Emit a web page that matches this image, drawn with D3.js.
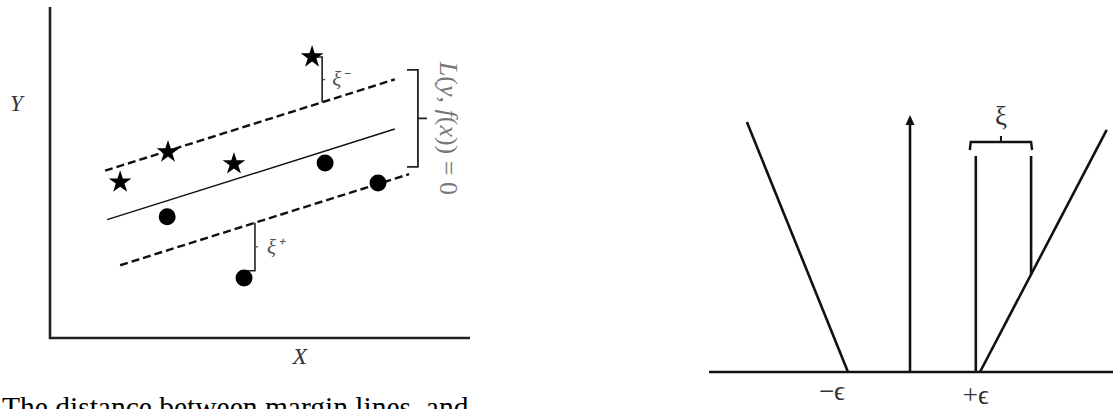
<!DOCTYPE html>
<html><head><meta charset="utf-8">
<script src="https://cdn.jsdelivr.net/npm/d3@7"></script>
<style>body{margin:0;background:#fff}svg{display:block}</style>
</head><body>
<svg id="c" width="1113" height="409"></svg>
<script>
// ---- Left panel data (abstract units) ----
const starsX = [1.67, 2.81, 4.38, 6.24];
const starsY = [4.71, 5.62, 5.26, 8.49];
const dotsX = [2.79, 6.55, 7.81, 4.62];
const dotsY = [3.66, 5.29, 4.68, 1.81];
const fitIntercept = 3.03, fitSlope = 0.4, epsilon = 1.5;
const lineNames = ["upper", "fit", "lower"];
const lineOffsets = [epsilon, 0, -epsilon];
const lineStartX = [1.31, 1.36, 1.67];
const lineEndX = [8.21, 8.21, 8.55];
const slackX = [6.48, 4.88];           // ξ-, ξ+ connector positions
const slackLabels = ["ξ⁻", "ξ⁺"];
const bracketX = [8.5, 8.76];
const bracketY = [5.17, 8.1];
const axisLabels = ["X", "Y"];
const caption = "The distance between margin lines, and data";

// ---- Right panel data (ε-insensitive loss) ----
const lossLeftX = [-0.886, -2.33];
const lossLeftY = [0, 0.833];
const lossRightX = [1.0, 2.81];
const lossRightY = [0, 0.807];
const arrowY = [0, 0.857];
const slackBarX = [0.94, 1.73];
const slackBarTop = 0.72;
const baseX = [-2.87, 2.9];
const epsTicks = [-0.886, 0.94];
const epsLabels = ["−ϵ", "+ϵ"];
const xiLabel = "ξ";

const svg = d3.select("#c");
const serif = "Liberation Serif";

// scales
const xL = d3.scaleLinear().domain([0, 10]).range([50, 470]);
const yL = d3.scaleLinear().domain([0, 10]).range([338, 7]);
const xR = d3.scaleLinear().domain([0, 1]).range([910, 980]);
const yR = d3.scaleLinear().domain([0, 1]).range([372, 72]);

const fit = x => fitIntercept + fitSlope * x;

svg.append("defs").append("clipPath").attr("id", "leftclip")
  .append("rect").attr("x", 0).attr("y", 0).attr("width", xL(10)).attr("height", 409);

// ---------- LEFT PANEL ----------
const L = svg.append("g").attr("clip-path", "url(#leftclip)");
// axes
L.append("path")
  .attr("d", d3.line()([[xL(0), yL(10)], [xL(0), yL(0)], [xL(10) + 5, yL(0)]]))
  .attr("fill", "none").attr("stroke", "#222").attr("stroke-width", 2.6);

L.append("text").attr("x", xL(-0.8)).attr("y", yL(6.85))
  .attr("font-family", serif).attr("font-style", "italic").attr("font-size", 23)
  .attr("fill", "#333").attr("text-anchor", "middle").text(axisLabels[1]);
L.append("text").attr("x", xL(5.95)).attr("y", yL(-0.8))
  .attr("font-family", serif).attr("font-style", "italic").attr("font-size", 24)
  .attr("fill", "#333").attr("text-anchor", "middle").text(axisLabels[0]);

// regression + margin lines
lineNames.forEach((n, i) => {
  const x0 = lineStartX[i], x1 = lineEndX[i];
  L.append("line")
    .attr("x1", xL(x0)).attr("y1", yL(fit(x0) + lineOffsets[i]))
    .attr("x2", xL(x1)).attr("y2", yL(fit(x1) + lineOffsets[i]))
    .attr("stroke", "#111")
    .attr("stroke-width", n === "fit" ? 1.4 : 2.4)
    .attr("stroke-dasharray", n === "fit" ? null : "8,4");
});

// slack connectors
// ξ- : star index 3 to upper line
{
  const sx = slackX[0], top = starsY[3], bot = fit(sx) + epsilon;
  L.append("path").attr("d", d3.line()([[xL(starsX[3]), yL(top)], [xL(sx), yL(top)], [xL(sx), yL(bot)]]))
    .attr("fill", "none").attr("stroke", "#222").attr("stroke-width", 1.6);
  const mid = (top + bot) / 2;
  L.append("line").attr("x1", xL(sx)).attr("x2", xL(sx) + 3).attr("y1", yL(mid)).attr("y2", yL(mid))
    .attr("stroke", "#444").attr("stroke-width", 1.2);
  L.append("text").attr("x", xL(sx) + 10).attr("y", yL(mid) + 6)
    .attr("font-family", serif).attr("font-style", "italic").attr("font-size", 21).attr("fill", "#555")
    .text(slackLabels[0]);
}
// ξ+ : lower line to dot index 3
{
  const sx = slackX[1], top = fit(sx) - epsilon, bot = dotsY[3] + 0.22;
  L.append("path").attr("d", d3.line()([[xL(sx), yL(top)], [xL(sx), yL(bot)], [xL(dotsX[3]), yL(bot)]]))
    .attr("fill", "none").attr("stroke", "#222").attr("stroke-width", 1.6);
  const mid = (top + bot) / 2;
  L.append("line").attr("x1", xL(sx)).attr("x2", xL(sx) + 3).attr("y1", yL(mid)).attr("y2", yL(mid))
    .attr("stroke", "#444").attr("stroke-width", 1.2);
  L.append("text").attr("x", xL(sx) + 12).attr("y", yL(mid) + 7)
    .attr("font-family", serif).attr("font-style", "italic").attr("font-size", 21).attr("fill", "#555")
    .text(slackLabels[1]);
}

// stars
L.selectAll("path.star").data(starsX.map((x, i) => [x, starsY[i]])).join("path")
  .attr("class", "star")
  .attr("d", d3.symbol(d3.symbolStar, 160))
  .attr("transform", d => `translate(${xL(d[0])},${yL(d[1])})`)
  .attr("fill", "#000");
// dots
L.selectAll("circle.dot").data(dotsX.map((x, i) => [x, dotsY[i]])).join("circle")
  .attr("class", "dot")
  .attr("cx", d => xL(d[0])).attr("cy", d => yL(d[1])).attr("r", 8.5)
  .attr("fill", "#000");

// right bracket
{
  const bx0 = xL(bracketX[0]), bx1 = xL(bracketX[1]);
  const by0 = yL(bracketY[1]), by1 = yL(bracketY[0]);
  L.append("path").attr("d", d3.line()([[bx0, by0], [bx1, by0], [bx1, by1], [bx0, by1]]))
    .attr("fill", "none").attr("stroke", "#222").attr("stroke-width", 1.8);
  const my = (by0 + by1) / 2;
  L.append("line").attr("x1", bx1).attr("x2", bx1 + 9).attr("y1", my).attr("y2", my)
    .attr("stroke", "#222").attr("stroke-width", 1.8);
  L.append("text")
    .attr("transform", `translate(${bx1 + 22},${my + 10}) rotate(90)`)
    .attr("text-anchor", "middle")
    .attr("font-family", serif).attr("font-size", 26).attr("fill", "#777")
    .html('<tspan font-style="italic">L</tspan>(<tspan font-style="italic">y</tspan>, <tspan font-style="italic">f</tspan>(<tspan font-style="italic">x</tspan>)) = 0');
}

// caption (cropped by the panel edge, as in the original)
L.append("text").attr("x", 2).attr("y", 417)
  .attr("font-family", serif).attr("font-size", 29.5).attr("fill", "#000").text(caption);

// ---------- RIGHT PANEL ----------
const R = svg.append("g");
R.append("line").attr("x1", xR(baseX[0])).attr("x2", xR(baseX[1]))
  .attr("y1", yR(0)).attr("y2", yR(0)).attr("stroke", "#111").attr("stroke-width", 2.6);
R.append("line").attr("x1", xR(lossLeftX[0])).attr("y1", yR(lossLeftY[0]))
  .attr("x2", xR(lossLeftX[1])).attr("y2", yR(lossLeftY[1]))
  .attr("stroke", "#111").attr("stroke-width", 2.6);
R.append("line").attr("x1", xR(lossRightX[0])).attr("y1", yR(lossRightY[0]))
  .attr("x2", xR(lossRightX[1])).attr("y2", yR(lossRightY[1]))
  .attr("stroke", "#111").attr("stroke-width", 2.6);
// arrow
R.append("line").attr("x1", xR(0)).attr("x2", xR(0))
  .attr("y1", yR(arrowY[0])).attr("y2", yR(arrowY[1]) + 6)
  .attr("stroke", "#111").attr("stroke-width", 2.6);
R.append("path")
  .attr("d", d3.line()([[xR(0) - 4.5, yR(arrowY[1]) + 10], [xR(0), yR(arrowY[1])], [xR(0) + 4.5, yR(arrowY[1]) + 10]]) + "Z")
  .attr("fill", "#111");
// slack verticals
const lossAt = x => lossRightY[0] + (x - lossRightX[0]) * (lossRightY[1] - lossRightY[0]) / (lossRightX[1] - lossRightX[0]);
R.append("line").attr("x1", xR(slackBarX[0])).attr("x2", xR(slackBarX[0]))
  .attr("y1", yR(0)).attr("y2", yR(slackBarTop)).attr("stroke", "#111").attr("stroke-width", 2.6);
R.append("line").attr("x1", xR(slackBarX[1])).attr("x2", xR(slackBarX[1]))
  .attr("y1", yR(lossAt(slackBarX[1]))).attr("y2", yR(slackBarTop)).attr("stroke", "#111").attr("stroke-width", 2.6);
// bracket
{
  const bx0 = xR(slackBarX[0]) - 6, bx1 = xR(slackBarX[1]) + 1;
  const by = yR(slackBarTop) - 14, byEnd = yR(slackBarTop) - 6;
  R.append("path").attr("d", d3.line()([[bx0, byEnd], [bx0 + 1, by], [bx1 - 1, by], [bx1, byEnd]]))
    .attr("fill", "none").attr("stroke", "#111").attr("stroke-width", 2.4);
  const mx = (bx0 + bx1) / 2;
  R.append("line").attr("x1", mx).attr("x2", mx).attr("y1", by).attr("y2", by - 6)
    .attr("stroke", "#111").attr("stroke-width", 2);
  R.append("text").attr("x", mx).attr("y", by - 17).attr("text-anchor", "middle")
    .attr("font-family", serif).attr("font-size", 27).attr("fill", "#333").text(xiLabel);
}
// eps labels
R.selectAll("text.eps").data(epsTicks).join("text").attr("class", "eps")
  .attr("x", (d, i) => xR(d) + (i === 0 ? -16 : 0)).attr("y", (d, i) => i === 0 ? 400 : 404)
  .attr("text-anchor", "middle")
  .attr("font-family", serif).attr("font-size", 27).attr("fill", "#333")
  .text((d, i) => epsLabels[i]);
</script>
</body></html>
